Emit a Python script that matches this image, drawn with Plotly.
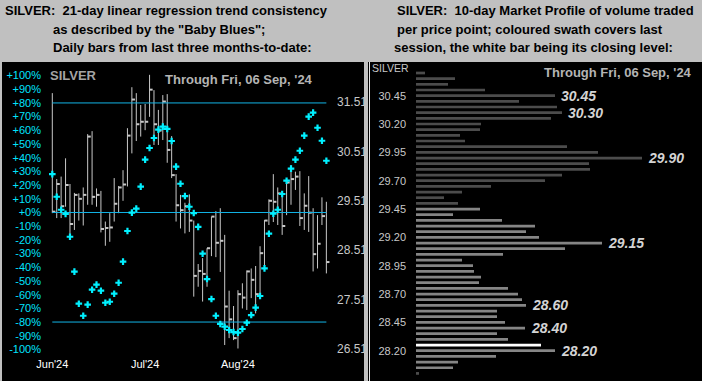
import plotly.graph_objects as go

W, H = 702, 381
FONT = "Liberation Sans, Arial, sans-serif"


def px(x):
    return x / W


def py(y):
    return 1 - y / H


# ---------------- Left chart data (daily bars, USD/oz) ----------------
bar_high = [31.69, 29.95, 30.00, 30.37, 29.85, 29.67, 29.66, 29.78, 30.86, 30.92,
            29.76, 29.71, 29.09, 29.26, 29.97, 29.81, 30.13, 30.98, 31.81, 31.69,
            31.45, 31.47, 32.06, 31.75, 31.35, 31.65, 31.67, 30.82, 30.05, 29.63,
            29.47, 29.64, 29.11, 28.23, 28.35, 28.55, 29.19, 29.30, 29.36, 28.82,
            27.69, 27.38, 27.70, 27.84, 28.10, 28.14, 28.19, 28.59, 29.12, 29.54,
            30.05, 29.78, 29.69, 29.90, 30.23, 30.10, 30.11, 29.66, 30.01, 29.36,
            29.22, 29.58, 29.49]
bar_low = [29.26, 29.16, 29.16, 29.39, 28.75, 28.92, 29.11, 29.01, 29.43, 29.43,
           29.39, 28.87, 28.60, 28.68, 29.09, 29.26, 29.51, 29.80, 30.47, 30.72,
           30.81, 30.94, 31.21, 30.64, 30.64, 30.74, 30.28, 29.97, 29.09, 28.95,
           28.85, 28.88, 27.57, 27.77, 27.47, 27.77, 28.39, 28.37, 28.07, 26.59,
           26.73, 26.69, 26.52, 27.33, 27.30, 27.54, 27.23, 27.57, 28.11, 29.02,
           29.08, 29.02, 28.82, 29.22, 29.43, 29.73, 29.00, 28.92, 28.88, 28.08,
           28.14, 29.02, 28.04]
bar_close = [29.29, 29.85, 29.40, 29.83, 29.04, 29.63, 29.55, 29.63, 30.81, 29.59,
             29.63, 28.94, 28.96, 28.97, 29.45, 29.78, 29.84, 30.83, 31.56, 31.06,
             31.11, 31.11, 31.76, 31.06, 30.93, 31.52, 30.54, 30.03, 29.42, 29.32,
             29.40, 29.11, 27.99, 28.09, 28.03, 28.55, 29.19, 28.66, 28.70, 27.37,
             27.11, 26.73, 27.62, 27.55, 28.08, 27.91, 27.62, 28.45, 29.11, 29.51,
             29.49, 29.66, 29.00, 29.88, 29.95, 30.00, 29.16, 29.41, 29.27, 28.43,
             28.64, 29.20, 28.27]
# "Baby Blues": 21-day linear regression trend consistency (%)
baby_blues = [28, 11.5, 2, -1, -17.7, -43.2, -66.6, -75.4, -67.3, -56.4,
              -52.7, -57.1, -65.9, -65.2, -59.3, -51.3, -35.9, -13.5, -0.1, 2.8,
              18.9, 38.6, 47.1, 54.4, 60.5, 62.7, 61.0, 52.2, 33.5, 21.0,
              12.0, 4.2, -0.4, -10.5, -30.1, -48.6, -63.2, -75.4, -81.4, -83.4,
              -85.8, -87.3, -87.8, -85.1, -80.5, -74.9, -69.5, -61.0, -40.8, -15.5,
              -0.9, 2.0, 13.5, 23.2, 32.0, 38.6, 45.1, 56.1, 70.0, 72.9,
              61.9, 52.4, 37.8]
month_ticks = [0, 21, 42]
month_labels = ["Jun'24", "Jul'24", "Aug'24"]
pct_ticks = list(range(-100, 101, 10))
pct_levels = [80, 0, -80]
price_ticks = [26.51, 27.51, 28.51, 29.51, 30.51, 31.51]

# ---------------- Right chart data (10-day market profile) ----------------
profile_prices = [30.65, 30.60, 30.55, 30.50, 30.45, 30.40, 30.35, 30.30, 30.25, 30.20,
                  30.15, 30.10, 30.05, 30.00, 29.95, 29.90, 29.85, 29.80, 29.75, 29.70,
                  29.65, 29.60, 29.55, 29.50, 29.45, 29.40, 29.35, 29.30, 29.25, 29.20,
                  29.15, 29.10, 29.05, 29.00, 28.95, 28.90, 28.85, 28.80, 28.75, 28.70,
                  28.65, 28.60, 28.55, 28.50, 28.45, 28.40, 28.35, 28.30, 28.25, 28.20,
                  28.15, 28.10, 28.05, 28.00]
profile_volume = [9, 39, 32, 69, 139, 103, 141, 146, 135, 65,
                  64, 44, 49, 151, 182, 226, 173, 174, 146, 129,
                  75, 46, 28, 42, 64, 37, 86, 119, 110, 123,
                  186, 149, 87, 46, 57, 58, 65, 63, 92, 102,
                  106, 110, 81, 81, 89, 109, 81, 92, 125, 139,
                  80, 42, 37, 3]
session_high = 29.45
session_low = 28.05
session_close = 28.25
peak_levels = [30.45, 30.30, 29.90, 29.15, 28.60, 28.40, 28.20]
profile_ticks = [28.20, 28.45, 28.70, 28.95, 29.20, 29.45, 29.70, 29.95, 30.20, 30.45]

n = len(bar_close)
fig = go.Figure()

# price bars: high-low line + close tick on the right
vx, vy = [], []
for i, (h, l) in enumerate(zip(bar_high, bar_low)):
    vx += [i, i, None]
    vy += [l, h, None]
fig.add_trace(go.Scatter(x=vx, y=vy, mode="lines", line=dict(color="#c8c8c8", width=1),
                         xaxis="x", yaxis="y", hoverinfo="skip"))
tx, ty = [], []
for i, c in enumerate(bar_close):
    tx += [i, i + 0.7, None]
    ty += [c, c, None]
fig.add_trace(go.Scatter(x=tx, y=ty, mode="lines", line=dict(color="#c8c8c8", width=2),
                         xaxis="x", yaxis="y", hoverinfo="skip"))

# reference lines at +80%, 0%, -80%
for lv in pct_levels:
    fig.add_trace(go.Scatter(x=[0, n - 1], y=[lv, lv], mode="lines",
                             line=dict(color="#12b4e6", width=1),
                             xaxis="x", yaxis="y2", hoverinfo="skip"))
# Baby Blues dots
fig.add_trace(go.Scatter(x=list(range(n)), y=baby_blues, mode="markers",
                         marker=dict(symbol="cross", size=5.5, color="#00f0ff", line=dict(width=0)),
                         xaxis="x", yaxis="y2", hoverinfo="skip"))

# market profile bars
colors = []
for p in profile_prices:
    if abs(p - session_close) < 1e-6:
        colors.append("#ffffff")
    elif session_low - 1e-6 <= p <= session_high + 1e-6:
        colors.append("#858585")
    else:
        colors.append("#4c4c4c")
fig.add_trace(go.Bar(y=profile_prices, x=profile_volume, orientation="h", width=0.024,
                     marker=dict(color=colors, line=dict(width=0)),
                     xaxis="x2", yaxis="y3", hoverinfo="skip"))

annotations = []


def txt(text, x, y, size, color, bold=False, italic=False, xanchor="left"):
    annotations.append(dict(text=text, x=px(x), y=py(y), xref="paper", yref="paper",
                            xanchor=xanchor, yanchor="middle", showarrow=False,
                            font=dict(family=FONT, size=size, color=color,
                                      weight="bold" if bold else "normal",
                                      style="italic" if italic else "normal")))


txt("SILVER:\u00a0 21-day linear regression trend consistency", 3, 10.5, 13, "#000000", bold=True)
txt('as described by the "Baby Blues";', 51, 29, 13, "#000000", bold=True)
txt("Daily bars from last three months-to-date:", 51, 47, 13, "#000000", bold=True)
txt("SILVER:\u00a0 10-day Market Profile of volume traded", 395, 10.5, 13, "#000000", bold=True)
txt("per price point; coloured swath covers last", 395, 29, 13, "#000000", bold=True)
txt("session, the white bar being its closing level:", 392, 47, 13, "#000000", bold=True)
txt("SILVER", 48, 76, 13, "#a4a4a4", bold=True)
txt("Through Fri, 06 Sep, '24", 163, 79, 13, "#b4b4b4", bold=True)
txt("Through Fri, 06 Sep, '24", 542, 73, 13, "#b4b4b4", bold=True)
txt("SILVER", 370, 68, 10.5, "#c8c8c8")

for lv in peak_levels:
    k = min(range(len(profile_prices)), key=lambda j: abs(profile_prices[j] - lv))
    annotations.append(dict(text=f"{lv:.2f}", x=profile_volume[k], y=lv, xref="x2", yref="y3",
                            xanchor="left", yanchor="middle", xshift=4, showarrow=False,
                            font=dict(family=FONT, size=14, color="#d4d4d4",
                                      weight="bold", style="italic")))

shapes = [
    dict(type="rect", xref="paper", yref="paper", x0=px(2), x1=px(364), y0=0, y1=py(62),
         fillcolor="#000000", line=dict(width=0), layer="below"),
    dict(type="rect", xref="paper", yref="paper", x0=px(368), x1=1, y0=0, y1=py(62),
         fillcolor="#000000", line=dict(width=0), layer="below"),
    dict(type="line", xref="paper", yref="paper", x0=px(369.5), x1=px(369.5), y0=0, y1=py(62),
         line=dict(color="#e6e6e6", width=1), layer="below"),
    dict(type="rect", xref="paper", yref="paper", x0=px(364), x1=px(368), y0=0, y1=py(62),
         fillcolor="#c0c0c0", line=dict(width=0), layer="above"),
]

fig.update_layout(
    width=W, height=H, margin=dict(l=0, r=0, t=0, b=0, pad=0, autoexpand=False),
    paper_bgcolor="#c0c0c0", plot_bgcolor="rgba(0,0,0,0)",
    showlegend=False, annotations=annotations, shapes=shapes,
    xaxis=dict(domain=[px(46), px(333)], range=[-1.425, 63.5], anchor="y",
               tickvals=month_ticks, ticktext=month_labels, ticks="",
               showgrid=False, zeroline=False, showline=False, automargin=False,
               tickfont=dict(family=FONT, size=11, color="#ffffff"), fixedrange=True),
    yaxis=dict(domain=[py(356), py(62)], range=[26.368, 32.320], anchor="x", side="right",
               tickvals=price_ticks, ticktext=[f"{v:.2f}" for v in price_ticks], ticks="",
               showgrid=False, zeroline=False, showline=False, ticklabelstandoff=3,
               automargin=False,
               tickfont=dict(family=FONT, size=12, color="#c8c8c8")),
    yaxis2=dict(overlaying="y", anchor="x", side="left", range=[-104.8, 109.9],
                tickvals=pct_ticks, ticktext=[f"{v:+d}%" for v in pct_ticks], ticks="",
                showgrid=False, zeroline=False, showline=False, ticklabelstandoff=4,
                automargin=False,
                tickfont=dict(family=FONT, size=11, color="#00e4ff")),
    xaxis2=dict(domain=[px(416), px(700)], range=[0, 284], anchor="y3", visible=False),
    yaxis3=dict(domain=[0, py(62)], range=[27.933, 30.747], anchor="x2", side="left",
                tickvals=profile_ticks, ticktext=[f"{v:.2f}" for v in profile_ticks], ticks="",
                showgrid=False, zeroline=False, showline=False, ticklabelstandoff=9,
                automargin=False,
                tickfont=dict(family=FONT, size=11, color="#c8c8c8")),
)

fig.write_html("out.html", config={"displayModeBar": False},
               post_script="document.body.style.margin='0';document.body.style.overflow='hidden';")
